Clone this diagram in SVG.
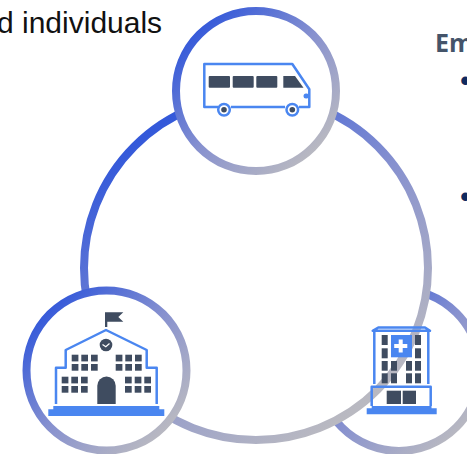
<svg xmlns="http://www.w3.org/2000/svg" width="467" height="454" viewBox="0 0 467 454">
<style>
.ring{stroke:url(#rg);stroke-width:8}
.big{stroke:url(#rb);stroke-width:8}
.ln{fill:none;stroke:#4a86f0;stroke-width:2.5;stroke-linejoin:round}
.b{fill:#4a86f0}
.d{fill:#3f4c60}
.t1{font-family:"Liberation Sans",Arial,sans-serif;font-size:30px;fill:#111}
.t2{font-family:"Open Sans","Noto Sans",sans-serif;font-weight:700;font-size:25px;fill:#44546a}
.t3{font-family:"Liberation Sans",Arial,sans-serif;font-size:31px;fill:#0f2a60}
</style>
<defs>
<linearGradient id="rg" x1="0.12" y1="0.12" x2="0.88" y2="0.88">
<stop offset="0" stop-color="#3459da"/>
<stop offset="0.5" stop-color="#8791cf"/>
<stop offset="1" stop-color="#b9b9c1"/>
</linearGradient>
<linearGradient id="rb" x1="0.12" y1="0.16" x2="0.72" y2="0.96">
<stop offset="0" stop-color="#3459da"/>
<stop offset="0.5" stop-color="#8791cf"/>
<stop offset="1" stop-color="#b9b9c1"/>
</linearGradient>
</defs>
<text class="t1" x="-3" y="33">d individuals</text>
<text class="t2" x="435" y="52">Em</text>
<text class="t3" x="460" y="91">•</text>
<text class="t3" x="460" y="207">•</text>
<g id="node-hospital-ring"><circle class="ring" cx="399" cy="370" r="81" fill="none"/></g>
<g id="connectors"><circle class="big" cx="256" cy="268" r="172" fill="#fff"/></g>
<g id="node-bus">
<circle class="ring" cx="256" cy="91" r="80" fill="#fff"/>
<path class="ln" d="M218 107H204.300V64H292.300L309.300 89.300V107H299M285 107H231"/>
<rect class="d" x="208.700" y="76" width="21.300" height="11.700" rx="1"/>
<rect class="d" x="232.700" y="76" width="21" height="11.700" rx="1"/>
<rect class="d" x="256.300" y="76" width="21" height="11.700" rx="1"/>
<path class="d" d="M283.300 76H295L303.500 87.700H283.300Z"/>
<circle cx="224" cy="109.700" r="5.800" fill="#fff" stroke="#4a86f0" stroke-width="2.500"/>
<circle class="d" cx="224" cy="109.700" r="2.800"/>
<circle cx="292.300" cy="109.700" r="5.800" fill="#fff" stroke="#4a86f0" stroke-width="2.500"/>
<circle class="d" cx="292.300" cy="109.700" r="2.800"/>
<rect class="b" x="303.500" y="93.500" width="5.500" height="5" rx="2.500"/>
</g>
<g id="node-school">
<circle class="ring" cx="106.500" cy="370.500" r="80" fill="#fff"/>
<path class="d" d="M105 312.300H123.300L118.300 317L123.300 321.700H107.300V327H105Z"/>
<path class="ln" d="M56 404V367.700H65.700V350L106 330L146.700 350V367.700H156.700V404"/>
<circle class="d" cx="106" cy="345" r="6.300"/>
<path d="M102.500 344.500L105.800 346.800L109.500 343.500" fill="none" stroke="#fff" stroke-width="1.200"/>
<g class="d">
<rect x="71.700" y="354.700" width="6.700" height="6.700"/><rect x="81.300" y="354.700" width="6.700" height="6.700"/><rect x="91" y="354.700" width="6.700" height="6.700"/>
<rect x="71.700" y="364" width="6.700" height="6.700"/><rect x="81.300" y="364" width="6.700" height="6.700"/><rect x="91" y="364" width="6.700" height="6.700"/>
<rect x="115.700" y="354.700" width="6.700" height="6.700"/><rect x="125.300" y="354.700" width="6.700" height="6.700"/><rect x="135" y="354.700" width="6.700" height="6.700"/>
<rect x="115.700" y="364" width="6.700" height="6.700"/><rect x="125.300" y="364" width="6.700" height="6.700"/><rect x="135" y="364" width="6.700" height="6.700"/>
<rect x="61.700" y="376.700" width="6.700" height="6.700"/><rect x="71.300" y="376.700" width="6.700" height="6.700"/><rect x="81" y="376.700" width="6.700" height="6.700"/>
<rect x="61.700" y="386" width="6.700" height="6.700"/><rect x="71.300" y="386" width="6.700" height="6.700"/><rect x="81" y="386" width="6.700" height="6.700"/>
<rect x="125" y="376.700" width="6.700" height="6.700"/><rect x="134.700" y="376.700" width="6.700" height="6.700"/><rect x="144.300" y="376.700" width="6.700" height="6.700"/>
<rect x="125" y="386" width="6.700" height="6.700"/><rect x="134.700" y="386" width="6.700" height="6.700"/><rect x="144.300" y="386" width="6.700" height="6.700"/>
<path d="M97.300 404V385.800A9.200 9.200 0 0 1 115.700 385.800V404Z"/>
</g>
<path class="b" d="M53.300 406H159.300V409.300H164.300V416H48.300V409.300H53.300Z"/>
</g>
<g id="node-hospital">
<path class="ln" d="M378.300 327.500H425L430 330.800H372.700ZM374.300 331V384M428.300 331V384M371.700 406V386.700H430.700V406"/>
<g class="d">
<rect x="381.700" y="335" width="6" height="10"/><rect x="415" y="335" width="6" height="10"/>
<rect x="381.700" y="348.300" width="6" height="10"/><rect x="415" y="348.300" width="6" height="10"/>
<rect x="381.700" y="361" width="6" height="9.700"/><rect x="391" y="361" width="6" height="9.700"/><rect x="406" y="361" width="6" height="9.700"/><rect x="415" y="361" width="6" height="9.700"/>
<rect x="381.700" y="373.300" width="6" height="10"/><rect x="391" y="373.300" width="6" height="10"/><rect x="406" y="373.300" width="6" height="10"/><rect x="415" y="373.300" width="6" height="10"/>
<rect x="386.700" y="390.700" width="14.300" height="13.300"/><rect x="402.700" y="390.700" width="13.300" height="13.300"/>
</g>
<rect class="b" x="391" y="335" width="21" height="22.300"/>
<path fill="#fff" d="M398.700 339.500H402.700V344H407.300V348H402.700V352.500H398.700V348H394.200V344H398.700Z"/>
<path class="b" d="M371.700 406H431.500V408.300H436.700V414.300H366.700V408.300H371.700Z"/>
</g>
</svg>
